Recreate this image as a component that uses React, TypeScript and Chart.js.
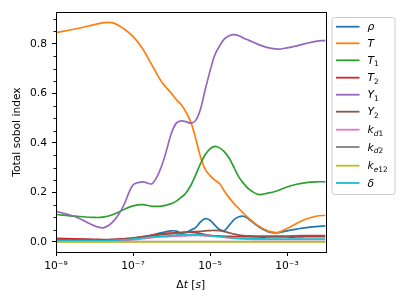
import React, { useEffect, useRef } from 'react';
import { Chart, registerables } from 'chart.js';

Chart.register(...registerables);

// log10 of Δt [s]
const logDt = [-9, -8.5, -8, -7.75, -7.5, -7.25, -7, -6.75, -6.5, -6.25, -6, -5.875, -5.75, -5.625, -5.5, -5.375, -5.25, -5.125, -5, -4.875, -4.75, -4.625, -4.5, -4.375, -4.25, -4.125, -4, -3.75, -3.5, -3.25, -3, -2.75, -2.5, -2.25, -2];

const rho = [0.010, 0.010, 0.009, 0.009, 0.010, 0.012, 0.015, 0.020, 0.028, 0.038, 0.045, 0.044, 0.036, 0.039, 0.048, 0.058, 0.080, 0.094, 0.088, 0.068, 0.050, 0.046, 0.068, 0.090, 0.102, 0.104, 0.093, 0.063, 0.042, 0.037, 0.045, 0.052, 0.058, 0.062, 0.065];
const temp = [0.846, 0.860, 0.878, 0.886, 0.884, 0.862, 0.830, 0.780, 0.712, 0.645, 0.600, 0.575, 0.555, 0.525, 0.485, 0.420, 0.345, 0.293, 0.268, 0.250, 0.235, 0.205, 0.178, 0.155, 0.135, 0.115, 0.097, 0.066, 0.045, 0.038, 0.054, 0.075, 0.093, 0.104, 0.108];
const t1 = [0.111, 0.104, 0.099, 0.101, 0.112, 0.130, 0.146, 0.151, 0.144, 0.145, 0.155, 0.165, 0.180, 0.198, 0.228, 0.270, 0.315, 0.352, 0.376, 0.386, 0.380, 0.364, 0.338, 0.300, 0.262, 0.236, 0.215, 0.192, 0.197, 0.207, 0.222, 0.233, 0.240, 0.243, 0.243];
const t2 = [0.015, 0.013, 0.011, 0.010, 0.011, 0.013, 0.016, 0.022, 0.028, 0.033, 0.036, 0.037, 0.038, 0.039, 0.040, 0.038, 0.034, 0.030, 0.027, 0.025, 0.024, 0.023, 0.023, 0.022, 0.022, 0.021, 0.021, 0.020, 0.020, 0.020, 0.020, 0.020, 0.021, 0.021, 0.021];
const y1 = [0.124, 0.102, 0.065, 0.058, 0.085, 0.145, 0.230, 0.243, 0.236, 0.310, 0.440, 0.480, 0.489, 0.486, 0.480, 0.490, 0.535, 0.615, 0.690, 0.755, 0.792, 0.820, 0.833, 0.837, 0.833, 0.823, 0.815, 0.798, 0.785, 0.779, 0.784, 0.792, 0.802, 0.810, 0.814];
const y2 = [0.005, 0.005, 0.005, 0.006, 0.008, 0.011, 0.015, 0.020, 0.025, 0.030, 0.034, 0.036, 0.038, 0.040, 0.041, 0.042, 0.043, 0.045, 0.046, 0.047, 0.046, 0.042, 0.037, 0.032, 0.028, 0.026, 0.025, 0.024, 0.024, 0.024, 0.024, 0.025, 0.026, 0.026, 0.026];
const kd1 = [0.003, 0.003, 0.003, 0.003, 0.004, 0.006, 0.009, 0.013, 0.017, 0.020, 0.022, 0.023, 0.024, 0.025, 0.026, 0.026, 0.026, 0.025, 0.024, 0.022, 0.020, 0.018, 0.016, 0.014, 0.013, 0.012, 0.011, 0.010, 0.010, 0.010, 0.010, 0.010, 0.010, 0.010, 0.010];
const kd2 = [0.002, 0.002, 0.002, 0.002, 0.002, 0.002, 0.002, 0.002, 0.002, 0.002, 0.002, 0.002, 0.002, 0.002, 0.002, 0.002, 0.002, 0.002, 0.002, 0.002, 0.002, 0.002, 0.002, 0.002, 0.002, 0.002, 0.002, 0.002, 0.002, 0.002, 0.002, 0.002, 0.002, 0.002, 0.002];
const ke12 = [0, 0, 0, 0, 0, 0, 0, 0, 0, 0, 0, 0, 0, 0, 0, 0, 0, 0, 0, 0, 0, 0, 0, 0, 0, 0, 0, 0, 0, 0, 0, 0, 0, 0, 0];
const delta = [0.006, 0.006, 0.006, 0.006, 0.007, 0.009, 0.012, 0.016, 0.020, 0.023, 0.026, 0.028, 0.029, 0.030, 0.030, 0.030, 0.029, 0.027, 0.025, 0.024, 0.022, 0.020, 0.018, 0.016, 0.015, 0.014, 0.014, 0.013, 0.012, 0.012, 0.012, 0.012, 0.012, 0.012, 0.012];

const seriesLabels = ['ρ', 'T', 'T_1', 'T_2', 'Y_1', 'Y_2', 'k_d1', 'k_d2', 'k_e12', 'δ'];
const seriesValues = [rho, temp, t1, t2, y1, y2, kd1, kd2, ke12, delta];
const seriesColors = ['#1f77b4', '#ff7f0e', '#2ca02c', '#d62728', '#9467bd', '#8c564b', '#e377c2', '#7f7f7f', '#bcbd22', '#17becf'];

const xTickValues = [1e-9, 1e-7, 1e-5, 1e-3];
const xTickLabels = ['10⁻⁹', '10⁻⁷', '10⁻⁵', '10⁻³'];
const yTickValues = [0, 0.2, 0.4, 0.6, 0.8];
const yTickLabels = ['0.0', '0.2', '0.4', '0.6', '0.8'];
const yMinorTicks = [0.05, 0.1, 0.15, 0.25, 0.3, 0.35, 0.45, 0.5, 0.55, 0.65, 0.7, 0.75, 0.85, 0.9];

const xTitleParts: [string, boolean][] = [['Δ', false], ['t', true], [' [', false], ['s', true], [']', false]];
const yTitle = 'Total sobol index';

const FONT = '"DejaVu Sans"';
const FS = 10.7;

function drawMath(ctx: CanvasRenderingContext2D, label: string, x: number, y: number, size: number) {
  const [base, sub] = label.split('_');
  ctx.font = `italic ${size}px ${FONT}`;
  ctx.fillText(base, x, y);
  x += ctx.measureText(base).width;
  if (sub) {
    const ss = size * 0.7;
    for (const ch of sub) {
      ctx.font = /[0-9]/.test(ch) ? `${ss}px ${FONT}` : `italic ${ss}px ${FONT}`;
      ctx.fillText(ch, x, y + size * 0.22);
      x += ctx.measureText(ch).width;
    }
  }
}

const decorPlugin = {
  id: 'decor',
  afterDraw(chart: any) {
    const { ctx, chartArea: ca, scales } = chart;
    const ys = scales.y;
    ctx.save();
    ctx.strokeStyle = '#000';
    ctx.fillStyle = '#000';
    // minor y ticks
    ctx.lineWidth = 0.9;
    for (const v of yMinorTicks) {
      const py = Math.round(ys.getPixelForValue(v)) + 0.5;
      ctx.beginPath();
      ctx.moveTo(ca.left - 2.5, py);
      ctx.lineTo(ca.left, py);
      ctx.stroke();
    }
    // spines
    ctx.lineWidth = 1;
    ctx.strokeRect(Math.round(ca.left) + 0.5, Math.round(ca.top) + 0.5, Math.round(ca.right - ca.left), Math.round(ca.bottom - ca.top));

    // x title
    ctx.textBaseline = 'alphabetic';
    ctx.textAlign = 'left';
    let total = 0;
    for (const [t, it] of xTitleParts) {
      ctx.font = `${it ? 'italic ' : ''}${FS}px ${FONT}`;
      total += ctx.measureText(t).width;
    }
    let xx = (ca.left + ca.right) / 2 - total / 2;
    for (const [t, it] of xTitleParts) {
      ctx.font = `${it ? 'italic ' : ''}${FS}px ${FONT}`;
      ctx.fillText(t, xx, 288);
      xx += ctx.measureText(t).width;
    }

    // y title
    ctx.save();
    ctx.translate(17.5, (ca.top + ca.bottom) / 2);
    ctx.rotate(-Math.PI / 2);
    ctx.font = `${FS}px ${FONT}`;
    ctx.textAlign = 'center';
    ctx.textBaseline = 'middle';
    ctx.fillText(yTitle, 0, 0);
    ctx.restore();

    // legend
    const lx = ca.right + 6.5;
    const ly = 17.5;
    const lw = 63;
    const lh = 177;
    const r = 2.5;
    ctx.beginPath();
    ctx.moveTo(lx + r, ly);
    ctx.lineTo(lx + lw - r, ly);
    ctx.arcTo(lx + lw, ly, lx + lw, ly + r, r);
    ctx.lineTo(lx + lw, ly + lh - r);
    ctx.arcTo(lx + lw, ly + lh, lx + lw - r, ly + lh, r);
    ctx.lineTo(lx + r, ly + lh);
    ctx.arcTo(lx, ly + lh, lx, ly + lh - r, r);
    ctx.lineTo(lx, ly + r);
    ctx.arcTo(lx, ly, lx + r, ly, r);
    ctx.closePath();
    ctx.fillStyle = 'rgba(255,255,255,0.8)';
    ctx.fill();
    ctx.strokeStyle = '#cccccc';
    ctx.lineWidth = 1;
    ctx.stroke();

    const rowOffsets = [0, 16.6, 33.6, 51, 68, 85, 103, 120.3, 139, 156.3];
    seriesLabels.forEach((lab, i) => {
      const cy = ly + 9.2 + rowOffsets[i];
      ctx.strokeStyle = seriesColors[i];
      ctx.lineWidth = 1.8;
      ctx.beginPath();
      ctx.moveTo(lx + 4, cy);
      ctx.lineTo(lx + 27.5, cy);
      ctx.stroke();
      ctx.fillStyle = '#000';
      ctx.textAlign = 'left';
      ctx.textBaseline = 'alphabetic';
      drawMath(ctx, lab, lx + 35.5, cy + 3.7, FS);
    });
    ctx.restore();
  },
};

export default function App() {
  const ref = useRef<HTMLCanvasElement>(null);
  useEffect(() => {
    document.body.style.margin = '0';
    const canvas = ref.current!;
    Chart.defaults.font.family = FONT;
    const datasets = seriesLabels.map((label, i) => ({
      label,
      data: seriesValues[i].map((v, j) => ({ x: Math.pow(10, logDt[j]), y: v })),
      borderColor: seriesColors[i],
      backgroundColor: seriesColors[i],
      borderWidth: 1.7,
      pointRadius: 0,
      tension: 0.35,
      fill: false,
      order: seriesLabels.length - i,
    }));
    const chart = new Chart(canvas, {
      type: 'line',
      data: { datasets },
      options: {
        animation: false,
        responsive: false,
        devicePixelRatio: 1,
        layout: { padding: { top: 12, right: 81.5, left: 0, bottom: 0 } },
        plugins: { legend: { display: false }, tooltip: { enabled: false } },
        scales: {
          x: {
            type: 'logarithmic',
            min: 1e-9,
            max: 1e-2,
            afterBuildTicks: (s: any) => {
              s.ticks = xTickValues.map((v) => ({ value: v }));
            },
            afterFit: (s: any) => {
              s.height = 53;
            },
            ticks: {
              autoSkip: false,
              maxRotation: 0,
              padding: 4,
              color: '#000',
              font: { size: FS, family: FONT },
              callback: (v: any) => {
                const idx = xTickValues.findIndex((t) => Math.abs(Math.log10(t) - Math.log10(Number(v))) < 1e-6);
                return idx >= 0 ? xTickLabels[idx] : '';
              },
            },
            grid: { display: true, drawOnChartArea: false, drawTicks: true, tickLength: 4, color: '#000', tickColor: '#000' },
            border: { display: false },
          },
          y: {
            type: 'linear',
            min: -0.0405,
            max: 0.9287,
            afterBuildTicks: (s: any) => {
              s.ticks = yTickValues.map((v) => ({ value: v }));
            },
            afterFit: (s: any) => {
              s.width = 56;
            },
            ticks: {
              padding: 5,
              color: '#000',
              font: { size: FS, family: FONT },
              callback: (v: any) => {
                const idx = yTickValues.findIndex((t) => Math.abs(t - Number(v)) < 1e-9);
                return idx >= 0 ? yTickLabels[idx] : '';
              },
            },
            grid: { display: true, drawOnChartArea: false, drawTicks: true, tickLength: 4, color: '#000', tickColor: '#000' },
            border: { display: false },
          },
        },
      } as any,
      plugins: [decorPlugin],
    });
    return () => chart.destroy();
  }, []);
  return (
    <div style={{ width: 407, height: 305 }}>
      <canvas ref={ref} width={407} height={305} style={{ display: 'block' }} />
    </div>
  );
}
